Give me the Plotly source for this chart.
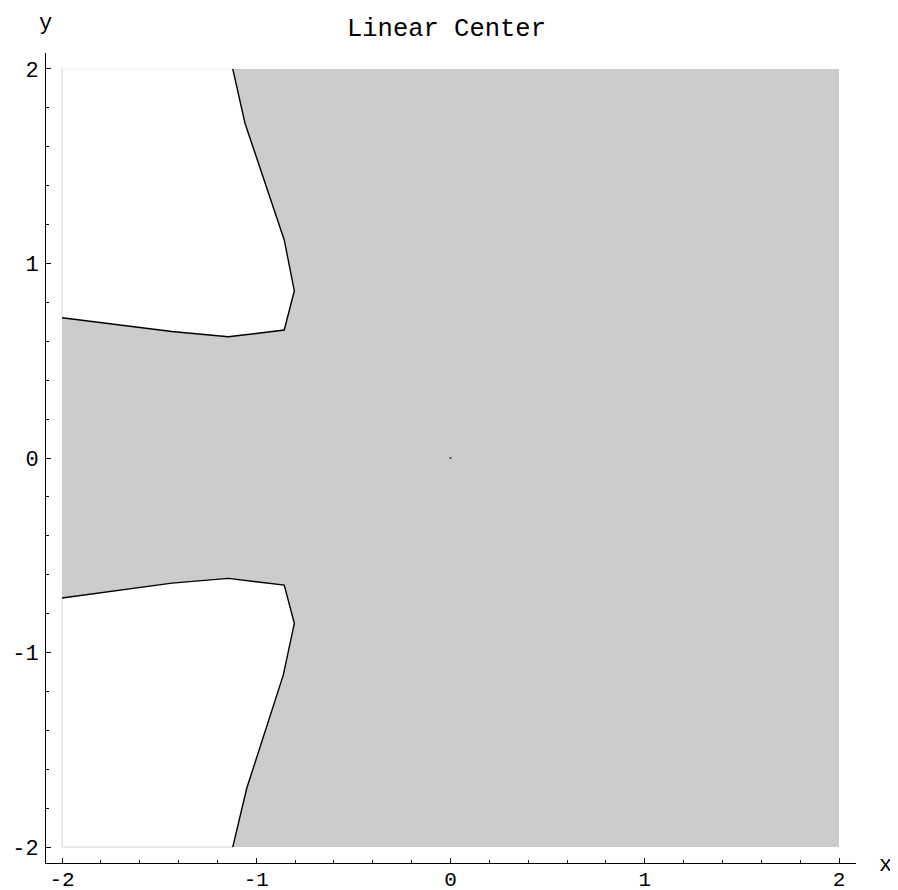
import plotly.graph_objects as go

# Boundary of the grey region (upper branch, from left edge up to top edge)
upper_x = [-2.0, -1.434, -1.144, -0.856, -0.804, -0.856, -1.058, -1.121]
upper_y = [0.721, 0.650, 0.623, 0.658, 0.859, 1.121, 1.721, 2.0]
# Lower branch, from left edge down to bottom edge
lower_x = [-2.0, -1.434, -1.144, -0.856, -0.804, -0.861, -1.049, -1.121]
lower_y = [-0.720, -0.643, -0.619, -0.653, -0.850, -1.116, -1.698, -2.0]

x_min, x_max = -2.0, 2.0
y_min, y_max = -2.0, 2.0
tick_vals = [-2, -1, 0, 1, 2]
tick_text = ["-2", "-1", "0", "1", "2"]
title_text = "Linear Center"

FONT = "Liberation Mono, Courier New, monospace"
GREY = "#cccccc"

fig = go.Figure()

# grey region polygon
poly_x = [upper_x[-1], x_max, x_max, lower_x[-1]] + lower_x[::-1] + upper_x
poly_y = [y_max, y_max, y_min, y_min] + lower_y[::-1] + upper_y
fig.add_trace(go.Scatter(x=poly_x, y=poly_y, fill="toself", fillcolor=GREY,
                         mode="lines", line=dict(width=0, color=GREY),
                         hoverinfo="skip", showlegend=False))

# faint edges of the white regions on the plot border
fig.add_trace(go.Scatter(x=[x_min, x_min], y=[upper_y[0], y_max], mode="lines",
                         line=dict(color="#d4d4d4", width=1), showlegend=False))
fig.add_trace(go.Scatter(x=[x_min, x_min], y=[lower_y[0], y_min], mode="lines",
                         line=dict(color="#d4d4d4", width=1), showlegend=False))
fig.add_trace(go.Scatter(x=[x_min, lower_x[-1]], y=[y_min, y_min], mode="lines",
                         line=dict(color="#d4d4d4", width=1), showlegend=False))
fig.add_trace(go.Scatter(x=[x_min, upper_x[-1]], y=[y_max, y_max], mode="lines",
                         line=dict(color="#f2f2f2", width=1), showlegend=False))

# black boundary curves
fig.add_trace(go.Scatter(x=upper_x, y=upper_y, mode="lines",
                         line=dict(color="black", width=1.4), showlegend=False))
fig.add_trace(go.Scatter(x=lower_x, y=lower_y, mode="lines",
                         line=dict(color="black", width=1.4), showlegend=False))

# center point
fig.add_trace(go.Scatter(x=[0], y=[0], mode="markers",
                         marker=dict(color="#333333", size=2), showlegend=False))

axis_common = dict(
    showgrid=False, zeroline=False, showline=True, linecolor="black", linewidth=1,
    ticks="inside", ticklen=5, tickwidth=1, tickcolor="black",
    tickvals=tick_vals, ticktext=tick_text,
    minor=dict(ticks="inside", ticklen=3, tickwidth=1, tickcolor="black",
               dtick=0.2, tick0=0),
    automargin=False, fixedrange=True,
)

fig.update_layout(
    width=890, height=882,
    margin=dict(l=38, r=42, t=45, b=27, pad=0),
    paper_bgcolor="white", plot_bgcolor="white",
    xaxis=dict(range=[-2.0824, 2.0875], ticklabelstandoff=-3,
               tickfont=dict(family=FONT, size=21, color="black"), **axis_common),
    yaxis=dict(range=[-2.082, 2.082], ticklabelstandoff=2,
               tickfont=dict(family=FONT, size=22, color="black"), **axis_common),
    annotations=[
        dict(text=title_text, xref="paper", yref="paper", x=0.495, y=1.029,
             xanchor="center", yanchor="middle", showarrow=False,
             font=dict(family=FONT, size=25.5, color="black")),
        dict(text="y", xref="paper", yref="paper", x=-0.001, y=1.037,
             xanchor="center", yanchor="middle", showarrow=False,
             font=dict(family=FONT, size=22, color="black")),
        dict(text="x", xref="paper", yref="paper", x=1.036, y=-0.003,
             xanchor="center", yanchor="middle", showarrow=False,
             font=dict(family=FONT, size=22, color="black")),
    ],
    showlegend=False,
)

fig.write_html("out.html")
